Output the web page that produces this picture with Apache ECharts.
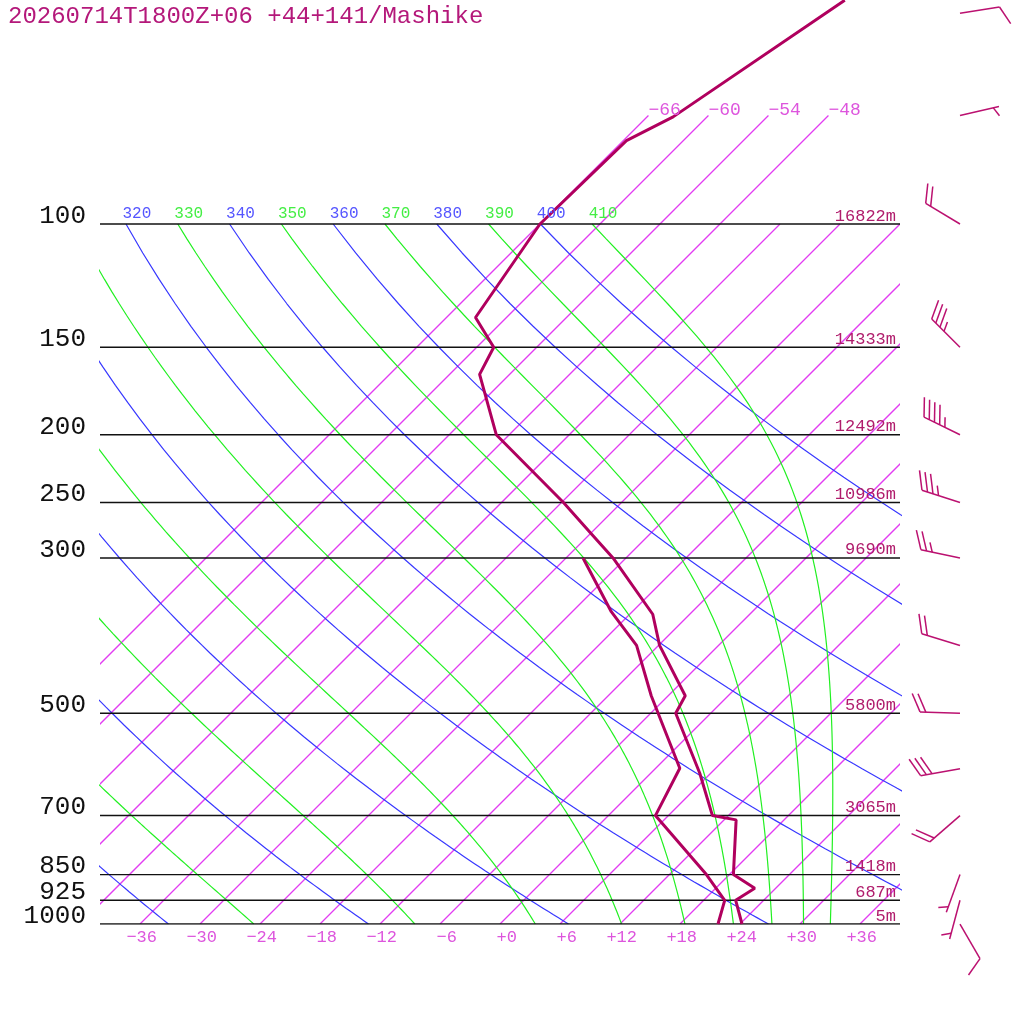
<!DOCTYPE html>
<html><head><meta charset="utf-8">
<script src="https://cdn.jsdelivr.net/npm/echarts@6/dist/echarts.min.js"></script>
<style>html,body{margin:0;padding:0;background:#fff}#c{width:1024px;height:1024px}</style>
</head><body><div id="c"></div>
<script>
// ---------------- data ----------------
const titleText = '20260714T1800Z+06 +44+141/Mashike';
const isobarP = [100, 150, 200, 250, 300, 500, 700, 850, 925, 1000];
const isobarLabels = ['100', '150', '200', '250', '300', '500', '700', '850', '925', '1000'];
const heightLabels = ['16822m', '14333m', '12492m', '10986m', '9690m', '5800m', '3065m', '1418m', '687m', '5m'];
const tempTicks = [-36, -30, -24, -18, -12, -6, 0, 6, 12, 18, 24, 30, 36];
const isothermT = [-66, -60, -54, -48, -42, -36, -30, -24, -18, -12, -6, 0, 6, 12, 18, 24, 30, 36];
const isothermExtT = [-66, -60, -54, -48];      // isotherms drawn up to 70 hPa and labelled
const isothermExtTop = 70;
const dryTheta = [240, 260, 280, 300, 320, 340, 360, 380, 400];   // K (blue)
const moistTheta = [250, 270, 290, 310, 330, 350, 370, 390, 410]; // K (green, value at 100 hPa)
// temperature profile
const tempP = [1000, 925, 889, 850, 710, 700, 609, 500, 472, 400, 361, 300, 276, 250, 200, 164, 150, 136, 100, 76, 70.3, 47.9];
const tempT = [24.2, 21.2, 21.9, 18.4, 13.2, 10.4, 4.9, -3.5, -4.3, -11.9, -15.7, -25.3, -30.1, -35.8, -49.3, -57.0, -58.3, -63.1, -66.0, -65.7, -63.4, -57.9];
// dew point profile
const dewP = [1000, 925, 850, 700, 599, 472, 400, 358, 300];
const dewT = [21.8, 20.1, 15.7, 4.7, 2.4, -7.7, -14.2, -20.1, -28.3];
// wind
const windP = [50, 70, 100, 150, 200, 250, 300, 400, 500, 600, 700, 850, 925, 1000];
const windDir = [81, 77, 301, 315, 296, 288, 282, 287, 272, 260, 229, 200, 195, 150];
const windKt = [10, 5, 20, 35, 45, 35, 25, 20, 20, 30, 20, 5, 5, 10];

// ---------------- diagram geometry ----------------
const SKEW = 70;                                  // skew: degC shift per decade of pressure
const P_TOP = 1000 / Math.pow(10, 924 / 700);     // pressure at top edge of the grid
const KAPPA = 0.2857;
const BARB_X = 46;
function skewX(t, p) { return t + SKEW * Math.log10(1000 / p); }

function dryCurve(theta) {
  const pts = [];
  for (let p = 100; p <= 1000; p += 10) {
    const T = theta * Math.pow(p / 1000, KAPPA) - 273.15;
    pts.push([skewX(T, p), p]);
  }
  return pts;
}
function moistCurve(thetaTop) {
  const Rd = 287.04, Cp = 1005.7, Lv = 2.501e6, eps = 0.622;
  const es = T => 6.112 * Math.exp(17.67 * (T - 273.15) / (T - 29.65));
  const f = (p, T) => { const e = es(T); const rs = eps * e / (p - e);
    return (1 / p) * (Rd * T + Lv * rs) / (Cp + (Lv * Lv * rs * eps) / (Rd * T * T)); };
  let p = 100, T = thetaTop * Math.pow(0.1, KAPPA);
  const pts = [[skewX(T - 273.15, p), p]];
  const dp = 5;
  while (p < 1000 - 1e-9) {
    const k1 = f(p, T), k2 = f(p + dp / 2, T + dp / 2 * k1), k3 = f(p + dp / 2, T + dp / 2 * k2), k4 = f(p + dp, T + dp * k3);
    T += dp / 6 * (k1 + 2 * k2 + 2 * k3 + k4); p += dp;
    pts.push([skewX(T - 273.15, p), p]);
  }
  return pts;
}

const series = [];
function addLine(data, color, width, z) {
  series.push({ type: 'line', data, symbol: 'none', silent: true, animation: false, clip: true, z,
    color: color, itemStyle: { color: color },
    lineStyle: { color: color, width: width, opacity: 1 }, emphasis: { disabled: true } });
}
// isotherms (custom series, straight skewed lines)
series.push({
  type: 'custom', coordinateSystem: 'cartesian2d', silent: true, animation: false, clip: true, z: 1,
  data: isothermT.map(t => [t, isothermExtT.includes(t) ? isothermExtTop : 100]),
  encode: { x: 0, y: 1 },
  renderItem: (params, api) => {
    const t = api.value(0), top = api.value(1);
    const a = api.coord([skewX(t, 1000), 1000]);
    const b = api.coord([skewX(t, top), top]);
    return { type: 'line', shape: { x1: a[0], y1: a[1], x2: b[0], y2: b[1] },
      style: { stroke: '#e23cf2', lineWidth: 1.3, fill: null } };
  }
});
// dry adiabats
dryTheta.forEach(th => addLine(dryCurve(th), '#3838ff', 1.2, 1));
// moist adiabats
moistTheta.forEach(th => addLine(moistCurve(th), '#22f022', 1.2, 1));
// isobars
isobarP.forEach(p => addLine([[-40, p], [40, p]], '#111', 1.4, 2));
// profiles
addLine(dewP.map((p, i) => [skewX(dewT[i], p), p]), '#b0005e', 3, 5);
addLine(tempP.map((p, i) => [skewX(tempT[i], p), p]), '#b0005e', 3, 5);

// text labels
const texts = [];
const MONO = 'Liberation Mono, DejaVu Sans Mono, monospace';
isobarP.forEach((p, i) => texts.push({ X: -40, p, text: isobarLabels[i], dx: -14, dy: -8, align: 'right', font: '26px ' + MONO, color: '#111' }));
isobarP.forEach((p, i) => texts.push({ X: 40, p, text: heightLabels[i], dx: -4, dy: -8, align: 'right', font: '17px ' + MONO, color: '#b01c6c' }));
tempTicks.forEach(t => texts.push({ X: t, p: 1000, text: (t < 0 ? '\u2212' + (-t) : '+' + t), dx: 17, dy: 13, align: 'right', font: '17px ' + MONO, color: '#dd55dd' }));
isothermExtT.forEach(t => texts.push({ X: skewX(t, isothermExtTop), p: isothermExtTop, text: '\u2212' + (-t), dx: 0, dy: -5, align: 'left', font: '18px ' + MONO, color: '#dd55dd' }));
dryTheta.forEach(th => { const X = skewX(th * Math.pow(0.1, KAPPA) - 273.15, 100);
  if (X >= -40) texts.push({ X, p: 100, text: String(th), dx: -3.5, dy: -10, align: 'left', font: '16px ' + MONO, color: '#5555ff' }); });
moistTheta.forEach(th => { const X = skewX(th * Math.pow(0.1, KAPPA) - 273.15, 100);
  if (X >= -40) texts.push({ X, p: 100, text: String(th), dx: -3.5, dy: -10, align: 'left', font: '16px ' + MONO, color: '#44ee44' }); });

series.push({
  type: 'custom', coordinateSystem: 'cartesian2d', silent: true, animation: false, clip: false, z: 10,
  data: texts.map((t, i) => [t.X, t.p, i]), encode: { x: 0, y: 1 },
  renderItem: (params, api) => {
    const t = texts[api.value(2)];
    const pt = api.coord([api.value(0), api.value(1)]);
    return { type: 'text', x: pt[0] + t.dx, y: pt[1] + t.dy,
      style: { text: t.text, font: t.font, fill: t.color, align: t.align, verticalAlign: 'middle' } };
  }
});

// wind barbs
series.push({
  type: 'custom', coordinateSystem: 'cartesian2d', silent: true, animation: false, clip: false, z: 10,
  data: windP.map((p, i) => [BARB_X, p, windDir[i], windKt[i]]), encode: { x: 0, y: 1 },
  renderItem: (params, api) => {
    const base = api.coord([api.value(0), api.value(1)]);
    const dir = api.value(2) * Math.PI / 180, spd = api.value(3);
    const ux = Math.sin(dir), uy = -Math.cos(dir), px = -uy, py = ux;
    const a = 65 * Math.PI / 180;
    const fx = Math.cos(a) * ux + Math.sin(a) * px, fy = Math.cos(a) * uy + Math.sin(a) * py;
    const L = 40, FL = 20, SP = 5.8;
    const tip = [base[0] + ux * L, base[1] + uy * L];
    const st = { stroke: '#bb1170', lineWidth: 1.5 };
    const ch = [{ type: 'line', shape: { x1: base[0], y1: base[1], x2: tip[0], y2: tip[1] }, style: st }];
    const full = Math.floor(spd / 10), half = (spd % 10) >= 5;
    let d = full === 0 ? SP : 0;
    for (let i = 0; i < full; i++) {
      const sx = tip[0] - ux * d, sy = tip[1] - uy * d;
      ch.push({ type: 'line', shape: { x1: sx, y1: sy, x2: sx + fx * FL, y2: sy + fy * FL }, style: st });
      d += SP;
    }
    if (half) {
      const sx = tip[0] - ux * d, sy = tip[1] - uy * d;
      ch.push({ type: 'line', shape: { x1: sx, y1: sy, x2: sx + fx * FL / 2, y2: sy + fy * FL / 2 }, style: st });
    }
    return { type: 'group', children: ch };
  }
});

const chart = echarts.init(document.getElementById('c'), null, { renderer: 'canvas' });
chart.setOption({
  backgroundColor: '#fff',
  animation: false,
  grid: { left: 100, right: 124, top: 0, bottom: 100 },
  xAxis: { type: 'value', min: -40, max: 40, show: false },
  yAxis: { type: 'log', min: P_TOP, max: 1000, inverse: true, show: false },
  graphic: [{ type: 'text', x: 8, y: 17, style: { text: titleText, font: '24px ' + MONO, fill: '#b4187a', verticalAlign: 'middle' } }],
  series
});
</script>
</body></html>
